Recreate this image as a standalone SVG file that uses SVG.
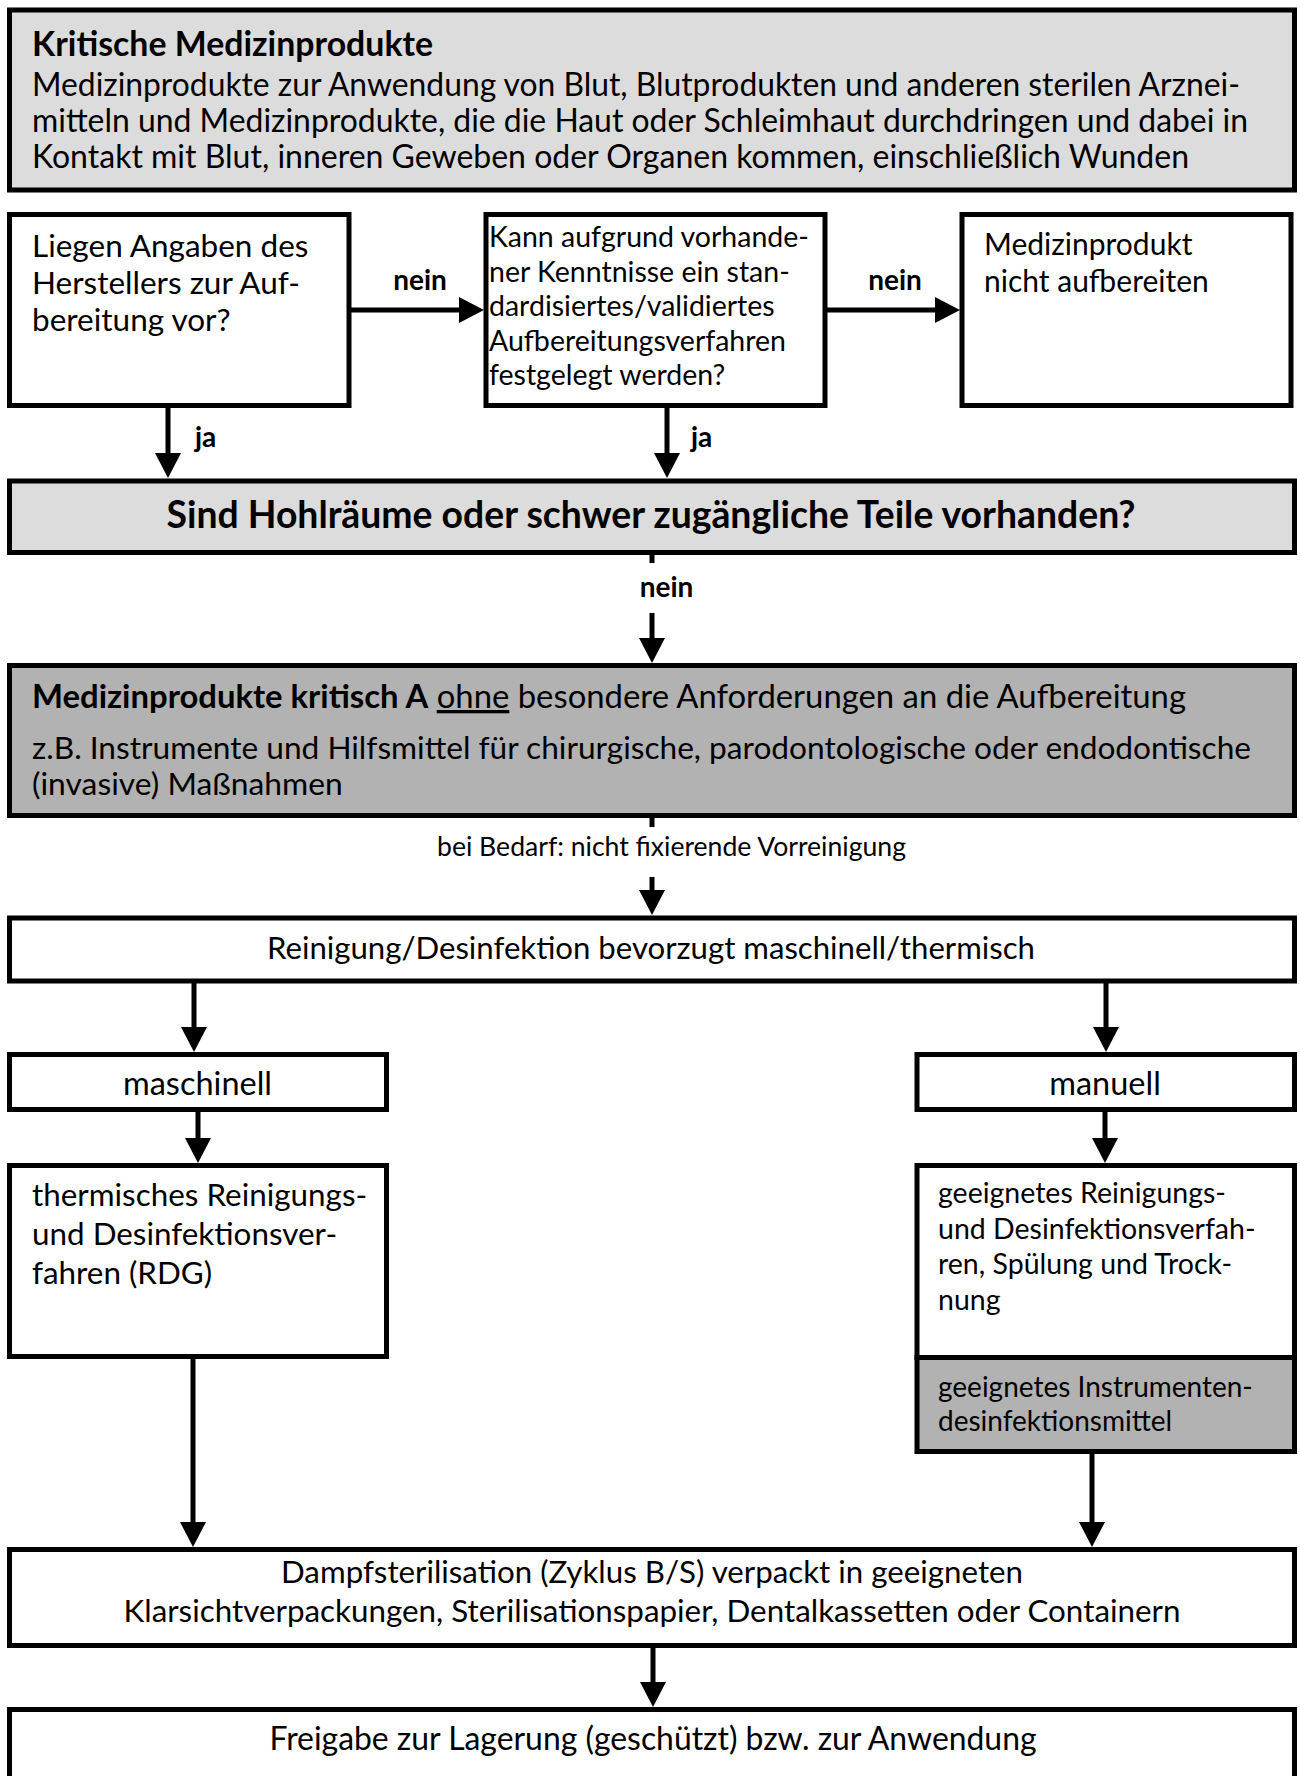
<svg xmlns="http://www.w3.org/2000/svg" width="1300" height="1776" viewBox="0 0 1300 1776">
<style>
.t{font-family:Lato,"Open Sans","DejaVu Sans",sans-serif;font-size:31.5px;fill:#000}
.s{font-size:28.5px}
.l{font-size:28px}
.b{font-weight:bold}
.box{stroke:#000;stroke-width:5;fill:#fff}
.lg{fill:#dcdcdc}
.dg{fill:#b2b2b2}
.c line{stroke:#000;stroke-width:5;fill:none}
</style>
<defs>
<marker id="ah" markerUnits="userSpaceOnUse" markerWidth="26" markerHeight="26" refX="0" refY="13" orient="auto" viewBox="0 0 26 26">
<path d="M0,0 L25,13 L0,26 Z" fill="#000"/>
</marker>
</defs>
<rect width="1300" height="1776" fill="#fff"/>

<g id="kritische-mp">
<rect class="box lg" x="9.5" y="10" width="1285" height="180"/>
<text class="t b" x="32" y="55.5" style="font-size:33.5px" textLength="401" lengthAdjust="spacingAndGlyphs">Kritische Medizinprodukte</text>
<text class="t" x="32" y="96" style="font-size:32px" textLength="1208" lengthAdjust="spacingAndGlyphs">Medizinprodukte zur Anwendung von Blut, Blutprodukten und anderen sterilen Arznei-</text>
<text class="t" x="32" y="132" style="font-size:32px" textLength="1216" lengthAdjust="spacingAndGlyphs">mitteln und Medizinprodukte, die die Haut oder Schleimhaut durchdringen und dabei in</text>
<text class="t" x="32" y="168" style="font-size:32px" textLength="1157" lengthAdjust="spacingAndGlyphs">Kontakt mit Blut, inneren Geweben oder Organen kommen, einschließlich Wunden</text>
</g>

<g id="angaben-hersteller">
<rect class="box" x="9.5" y="214.5" width="339.5" height="191"/>
<text class="t" x="32" y="257" style="font-size:31.5px">Liegen Angaben des</text>
<text class="t" x="32" y="294" style="font-size:31.5px">Herstellers zur Auf-</text>
<text class="t" x="32" y="331" style="font-size:31.5px">bereitung vor?</text>
</g>

<g id="standardverfahren">
<rect class="box" x="486" y="214.5" width="339" height="191"/>
<text class="t s" x="489" y="247">Kann aufgrund vorhande-</text>
<text class="t s" x="489" y="282">ner Kenntnisse ein stan-</text>
<text class="t s" x="489" y="316">dardisiertes/validiertes</text>
<text class="t s" x="489" y="351">Aufbereitungsverfahren</text>
<text class="t s" x="489" y="385">festgelegt werden?</text>
</g>

<g id="nicht-aufbereiten">
<rect class="box" x="962" y="214.5" width="329" height="191"/>
<text class="t" x="984" y="255" style="font-size:30px">Medizinprodukt</text>
<text class="t" x="984" y="292" style="font-size:30px">nicht aufbereiten</text>
</g>

<g id="hohlraeume">
<rect class="box lg" x="9.5" y="481" width="1285" height="71.5"/>
<text class="t b" x="651" y="528" text-anchor="middle" style="font-size:37.4px" textLength="969" lengthAdjust="spacingAndGlyphs">Sind Hohlräume oder schwer zugängliche Teile vorhanden?</text>
</g>

<g id="kritisch-a">
<rect class="box dg" x="9.5" y="665.5" width="1285" height="150"/>
<text class="t" x="32" y="708" style="font-size:33px" textLength="1154" lengthAdjust="spacingAndGlyphs"><tspan class="b">Medizinprodukte kritisch A</tspan> <tspan style="text-decoration:underline">ohne</tspan> besondere Anforderungen an die Aufbereitung</text>
<text class="t" x="32" y="759" style="font-size:31.6px" textLength="1219" lengthAdjust="spacingAndGlyphs">z.B. Instrumente und Hilfsmittel für chirurgische, parodontologische oder endodontische</text>
<text class="t" x="32" y="795" style="font-size:31.8px">(invasive) Maßnahmen</text>
</g>

<g id="reinigung">
<rect class="box" x="9.5" y="918" width="1285" height="63"/>
<text class="t" x="651" y="959" text-anchor="middle" style="font-size:31.2px" textLength="768" lengthAdjust="spacingAndGlyphs">Reinigung/Desinfektion bevorzugt maschinell/thermisch</text>
</g>

<g id="maschinell">
<rect class="box" x="9.5" y="1054.5" width="377" height="55"/>
<text class="t" x="197.5" y="1095" text-anchor="middle" style="font-size:32.5px">maschinell</text>
</g>

<g id="manuell">
<rect class="box" x="917" y="1054.5" width="377.5" height="55"/>
<text class="t" x="1105" y="1095" text-anchor="middle" style="font-size:32.5px">manuell</text>
</g>

<g id="thermisch-rdg">
<rect class="box" x="9.5" y="1165.5" width="377" height="191"/>
<text class="t" x="32" y="1206" style="font-size:31.4px">thermisches Reinigungs-</text>
<text class="t" x="32" y="1244.5" style="font-size:31.4px">und Desinfektionsver-</text>
<text class="t" x="32" y="1284" style="font-size:31.4px">fahren (RDG)</text>
</g>

<g id="manuelles-verfahren">
<rect class="box" x="917" y="1165.5" width="377.5" height="192"/>
<text class="t s" x="938" y="1203">geeignetes Reinigungs-</text>
<text class="t s" x="938" y="1239">und Desinfektionsverfah-</text>
<text class="t s" x="938" y="1274">ren, Spülung und Trock-</text>
<text class="t s" x="938" y="1310">nung</text>
</g>

<g id="desinfektionsmittel">
<rect class="box dg" x="917" y="1357.5" width="377.5" height="94"/>
<text class="t l" x="938" y="1397">geeignetes Instrumenten-</text>
<text class="t l" x="938" y="1431">desinfektionsmittel</text>
</g>

<g id="dampfsterilisation">
<rect class="box" x="9.5" y="1549.5" width="1285" height="96"/>
<text class="t" x="652" y="1583" text-anchor="middle" style="font-size:31.3px" textLength="742" lengthAdjust="spacingAndGlyphs">Dampfsterilisation (Zyklus B/S) verpackt in geeigneten</text>
<text class="t" x="652" y="1622" text-anchor="middle" style="font-size:31.3px" textLength="1057" lengthAdjust="spacingAndGlyphs">Klarsichtverpackungen, Sterilisationspapier, Dentalkassetten oder Containern</text>
</g>

<g id="freigabe">
<rect class="box" x="9.5" y="1709.5" width="1285" height="100"/>
<text class="t" x="653" y="1750" text-anchor="middle" style="font-size:31.9px" textLength="767" lengthAdjust="spacingAndGlyphs">Freigabe zur Lagerung (geschützt) bzw. zur Anwendung</text>
</g>

<g id="connectors" class="c">
<line x1="351" y1="310" x2="459" y2="310" marker-end="url(#ah)"/>
<line x1="827" y1="310" x2="935" y2="310" marker-end="url(#ah)"/>
<line x1="168" y1="408" x2="168" y2="453" marker-end="url(#ah)"/>
<line x1="667" y1="408" x2="667" y2="453" marker-end="url(#ah)"/>
<line x1="652" y1="555" x2="652" y2="563"/>
<line x1="652" y1="613" x2="652" y2="638" marker-end="url(#ah)"/>
<line x1="652" y1="818" x2="652" y2="827"/>
<line x1="652" y1="877" x2="652" y2="890" marker-end="url(#ah)"/>
<line x1="194" y1="983" x2="194" y2="1027" marker-end="url(#ah)"/>
<line x1="1106" y1="983" x2="1106" y2="1027" marker-end="url(#ah)"/>
<line x1="198" y1="1112" x2="198" y2="1138" marker-end="url(#ah)"/>
<line x1="1105" y1="1112" x2="1105" y2="1138" marker-end="url(#ah)"/>
<line x1="193" y1="1359" x2="193" y2="1522" marker-end="url(#ah)"/>
<line x1="1092" y1="1454" x2="1092" y2="1522" marker-end="url(#ah)"/>
<line x1="653" y1="1648" x2="653" y2="1682" marker-end="url(#ah)"/>
<text class="t l b" x="420" y="290" text-anchor="middle">nein</text>
<text class="t l b" x="895" y="290" text-anchor="middle">nein</text>
<text class="t l b" x="195" y="447">ja</text>
<text class="t l b" x="691" y="447">ja</text>
<text class="t l b" x="666.5" y="597" text-anchor="middle">nein</text>
<text class="t" x="671.5" y="856" text-anchor="middle" style="font-size:26.6px" textLength="469" lengthAdjust="spacingAndGlyphs">bei Bedarf: nicht fixierende Vorreinigung</text>
</g>
</svg>
